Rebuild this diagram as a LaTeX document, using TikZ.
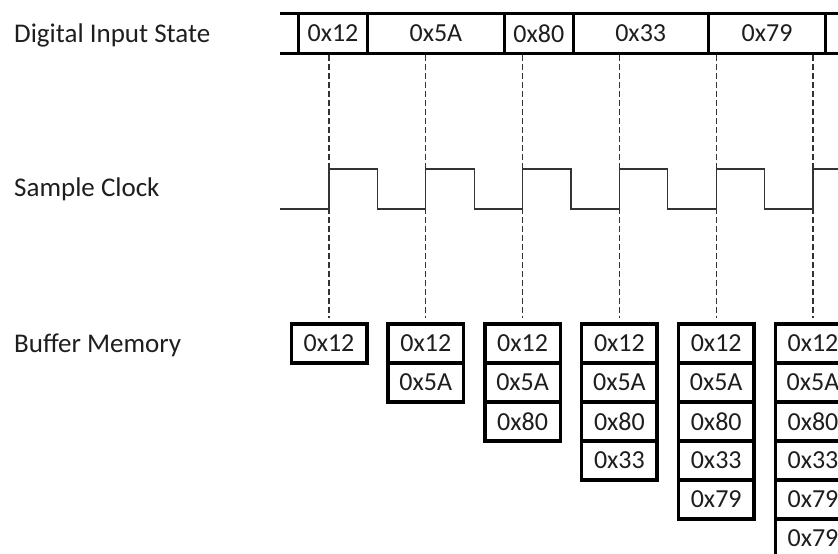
\documentclass[tikz,border=0pt]{standalone}
\usepackage{fontspec}
\setmainfont{Carlito}
\usetikzlibrary{positioning}
\definecolor{ink}{HTML}{1E1E1E}
\definecolor{wire}{HTML}{333333}
\tikzset{
  lbl/.style={anchor=base west,inner sep=0pt,text=ink,font=\fontsize{27}{32}\selectfont},
  buscell/.style={minimum height=39pt,inner sep=0pt,text=ink,font=\fontsize{26}{30}\selectfont},
  busline/.style={draw=black,line width=3pt},
  memcell/.style={draw=black,line width=3.5pt,minimum width=75.5pt,minimum height=39pt,inner sep=0pt,
                  text=ink,font=\fontsize{26}{30}\selectfont},
  guide/.style={draw=wire,line width=1.1pt,dash pattern=on 6pt off 3pt},
  clk/.style={draw=wire,line width=1.3pt},
}
\newcommand{\bufstack}[3]{%
  \foreach \val [count=\row] in {#3}
    \node[memcell] (#1-\row) at (#2,{343.5+39*(\row-1)}) {\val};
}

\begin{document}
\begin{tikzpicture}[x=1pt,y=-1pt]
  \useasboundingbox (0,0) rectangle (838,554);
  \clip (0,0) rectangle (838,554);

  \node[lbl] (lin) at (14,42) {Digital Input State};
  \node[lbl] (lclk) at (14,196.7) {Sample Clock};
  \node[lbl] (lbuf) at (14,352) {Buffer Memory};

  % ---------------------------------------------------------------- input bus
  \node[buscell,minimum width=68pt] (d12) at (333,33.5) {0x12};
  \node[buscell,minimum width=137pt,right=0pt of d12] (d5a) {0x5A};
  \node[buscell,minimum width=68pt,right=0pt of d5a] (d80) {0x80};
  \node[buscell,minimum width=135pt,right=0pt of d80] (d33) {0x33};
  \node[buscell,minimum width=117pt,right=0pt of d33] (d79) {0x79};
  \draw[busline] ([xshift=-19pt]d12.north west) -- ([xshift=30pt]d79.north east);
  \draw[busline] ([xshift=-19pt]d12.south west) -- ([xshift=30pt]d79.south east);
  \foreach \n in {d12,d5a,d80,d33,d79}
    \draw[busline] (\n.north west) -- (\n.south west);
  \draw[busline] (d79.north east) -- (d79.south east);

  % ---------------------------------------------------------------- buffer
  \bufstack{b1}{329}{0x12}
  \bufstack{b2}{425.8}{0x12,0x5A}
  \bufstack{b3}{522.6}{0x12,0x5A,0x80}
  \bufstack{b4}{619.4}{0x12,0x5A,0x80,0x33}
  \bufstack{b5}{716.2}{0x12,0x5A,0x80,0x33,0x79}
  \bufstack{b6}{813}{0x12,0x5A,0x80,0x33,0x79,0x79}

  \foreach \b in {b1,b2,b3,b4,b5,b6}
    \draw[guide,shorten <=2pt,shorten >=4pt] (\b-1.north |- d12.south) -- (\b-1.north);

  % ---------------------------------------------------------------- clock
  \draw[clk] (280,209) -- (b1-1.north |- 0,209)
    \foreach \k in {0,...,4} { -- ++(0,-40) -- ++(48.4,0) -- ++(0,40) -- ++(48.4,0) }
    -- ++(0,-40) -- ++(40,0);
\end{tikzpicture}
\end{document}
